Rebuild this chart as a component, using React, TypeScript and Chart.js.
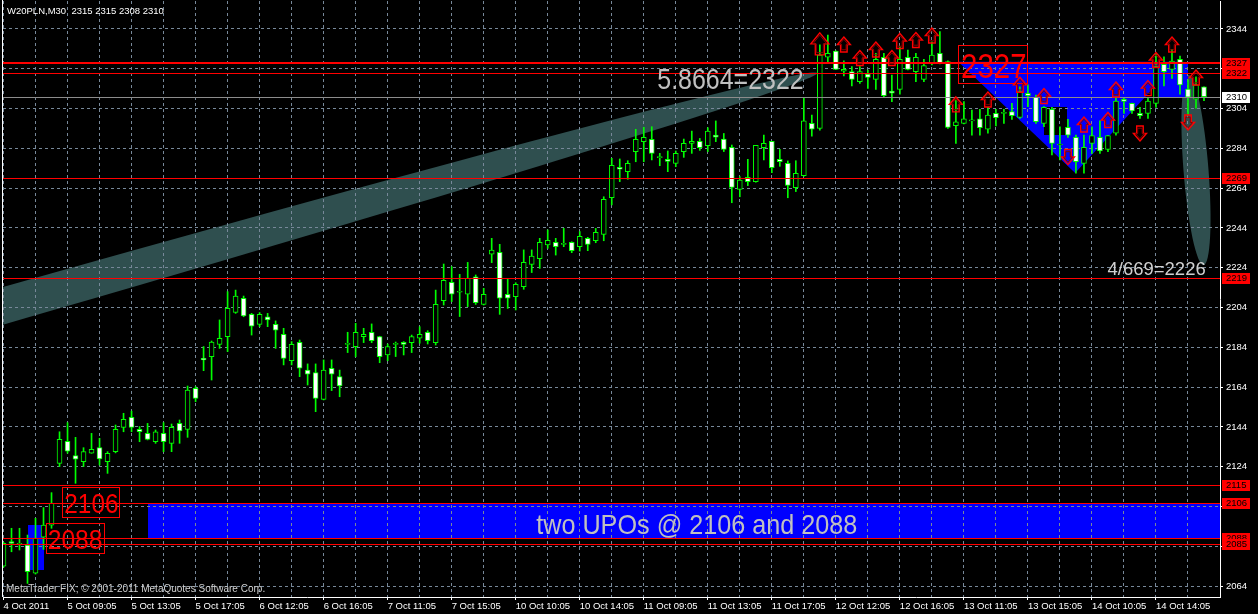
import { useEffect, useRef } from 'react';
import { Chart, registerables } from 'chart.js';

Chart.register(...registerables);

const FONT = "'Liberation Sans', Arial, sans-serif";

// ---- candle data (W20PLN, M30), bar index 0..150 ----
const opens = [
  2074.0, 2086.4, 2085.0, 2084.7, 2070.5, 2088.6, 2094.7, 2125.7, 2136.8, 2129.6,
  2126.6, 2130.8, 2133.6, 2126.6, 2131.6, 2143.8, 2148.9, 2142.8, 2140.8, 2136.6,
  2140.8, 2135.8, 2145.8, 2142.8, 2163.4, 2178.5, 2179.3, 2185.5, 2189.4, 2201.6,
  2208.7, 2200.6, 2195.6, 2199.4, 2195.6, 2190.6, 2177.3, 2186.5, 2172.6, 2171.3,
  2157.9, 2173.5, 2169.3, 2185.5, 2184.4, 2189.4, 2191.6, 2189.4, 2180.2, 2185.5,
  2186.5, 2186.4, 2188.6, 2191.6, 2186.4, 2207.5, 2216.7, 2211.7, 2210.7, 2219.5,
  2205.6, 2230.8, 2231.8, 2210.7, 2209.5, 2214.5, 2225.7, 2228.6, 2235.5, 2236.8,
  2235.8, 2236.8, 2234.6, 2238.8, 2237.6, 2240.8, 2259.2, 2274.5, 2272.3, 2282.4,
  2287.4, 2288.6, 2279.4, 2278.5, 2276.5, 2282.4, 2286.5, 2287.5, 2285.4, 2290.7,
  2288.7, 2284.5, 2263.4, 2269.5, 2267.3, 2284.4, 2287.5, 2278.5, 2276.5, 2264.3,
  2270.3, 2296.6, 2294.1, 2329.8, 2332.9, 2322.8, 2322.6, 2317.5, 2321.4, 2318.7,
  2329.8, 2312.8, 2313.7, 2329.8, 2322.6, 2318.7, 2326.7, 2331.8, 2327.6, 2295.4,
  2296.6, 2297.8, 2298.8, 2293.6, 2301.6, 2301.6, 2302.5, 2299.6, 2311.7, 2309.7,
  2296.6, 2303.6, 2285.7, 2294.6, 2289.6, 2276.5, 2286.5, 2289.6, 2283.5, 2291.6,
  2308.6, 2306.6, 2301.6, 2301.6, 2306.6, 2326.2, 2323.7, 2328.8, 2313.8, 2308.7,
  2315.0,
];
const highs = [
  2086.0, 2093.1, 2093.1, 2089.7, 2098.1, 2103.5, 2111.0, 2141.6, 2146.2, 2138.8,
  2133.6, 2140.8, 2138.3, 2131.6, 2145.0, 2150.9, 2152.0, 2144.2, 2145.8, 2142.5,
  2146.2, 2145.5, 2147.5, 2164.6, 2164.3, 2184.4, 2187.2, 2197.8, 2212.0, 2212.8,
  2209.8, 2201.1, 2201.5, 2201.1, 2197.3, 2193.6, 2186.9, 2187.7, 2175.7, 2175.7,
  2177.7, 2177.7, 2172.6, 2191.6, 2196.1, 2193.6, 2195.8, 2189.6, 2185.7, 2186.7,
  2186.9, 2190.2, 2194.4, 2192.4, 2212.8, 2225.9, 2224.6, 2220.7, 2226.7, 2220.4,
  2213.7, 2238.8, 2235.8, 2218.2, 2216.5, 2233.0, 2233.0, 2238.8, 2243.0, 2238.8,
  2243.8, 2237.1, 2242.2, 2239.3, 2243.8, 2259.7, 2279.0, 2278.7, 2277.8, 2293.6,
  2294.6, 2294.9, 2281.5, 2282.7, 2282.7, 2288.7, 2292.7, 2289.0, 2294.4, 2297.8,
  2291.5, 2285.7, 2269.8, 2278.5, 2285.5, 2290.7, 2287.6, 2283.5, 2277.7, 2277.8,
  2309.2, 2300.8, 2336.0, 2341.0, 2333.0, 2328.0, 2325.1, 2325.1, 2323.4, 2331.8,
  2331.8, 2320.9, 2335.1, 2333.4, 2331.8, 2328.8, 2337.6, 2342.7, 2328.0, 2308.3,
  2307.5, 2303.3, 2303.6, 2304.6, 2303.6, 2303.6, 2306.6, 2315.0, 2315.9, 2310.8,
  2305.0, 2304.6, 2294.9, 2298.6, 2290.7, 2290.7, 2294.9, 2297.9, 2290.6, 2310.0,
  2309.2, 2306.8, 2304.6, 2309.2, 2331.8, 2330.0, 2333.8, 2330.4, 2318.4, 2320.0,
  2315.0,
];
const lows = [
  2073.5, 2081.3, 2082.2, 2065.4, 2070.1, 2082.5, 2093.1, 2124.1, 2130.8, 2115.7,
  2124.1, 2130.8, 2124.9, 2120.7, 2131.0, 2141.6, 2141.6, 2136.6, 2137.5, 2135.8,
  2131.6, 2131.6, 2135.8, 2138.8, 2156.7, 2172.3, 2167.6, 2183.5, 2181.9, 2201.1,
  2199.4, 2190.2, 2194.4, 2194.4, 2183.5, 2175.2, 2175.2, 2169.3, 2165.1, 2151.7,
  2157.6, 2162.3, 2159.2, 2181.4, 2179.3, 2186.4, 2186.4, 2176.3, 2177.3, 2179.4,
  2180.2, 2181.4, 2186.1, 2185.7, 2185.2, 2205.3, 2207.0, 2199.5, 2204.5, 2205.6,
  2205.3, 2226.6, 2200.6, 2203.6, 2202.8, 2213.2, 2221.6, 2223.7, 2233.8, 2230.4,
  2234.6, 2231.6, 2232.4, 2232.6, 2236.6, 2237.6, 2255.6, 2267.3, 2268.5, 2277.3,
  2277.3, 2278.2, 2275.3, 2272.3, 2274.8, 2279.5, 2281.5, 2283.0, 2282.4, 2287.4,
  2282.4, 2256.7, 2259.7, 2265.3, 2267.0, 2278.2, 2271.8, 2275.0, 2259.2, 2262.3,
  2270.0, 2290.2, 2293.2, 2327.6, 2323.5, 2320.4, 2315.4, 2316.7, 2314.2, 2313.7,
  2309.7, 2307.5, 2311.3, 2323.4, 2317.5, 2317.5, 2325.9, 2326.5, 2294.0, 2286.5,
  2296.3, 2290.7, 2290.7, 2291.6, 2295.3, 2296.6, 2298.6, 2299.1, 2305.0, 2296.6,
  2294.9, 2280.7, 2278.2, 2289.5, 2271.5, 2271.5, 2281.5, 2281.5, 2282.4, 2290.7,
  2301.6, 2301.6, 2299.1, 2299.1, 2304.6, 2315.4, 2319.2, 2311.3, 2300.8, 2304.2,
  2308.0,
];
const closes = [
  2085.5, 2085.5, 2085.0, 2071.3, 2088.1, 2094.7, 2105.6, 2137.8, 2131.8, 2127.8,
  2131.6, 2132.8, 2127.9, 2130.8, 2142.8, 2147.8, 2143.8, 2141.6, 2137.8, 2141.6,
  2136.6, 2143.8, 2142.0, 2162.6, 2158.4, 2177.7, 2186.7, 2188.6, 2203.6, 2209.8,
  2199.8, 2194.7, 2200.6, 2197.8, 2192.7, 2178.5, 2185.5, 2173.5, 2170.5, 2158.4,
  2172.6, 2170.5, 2164.6, 2185.5, 2191.6, 2190.6, 2187.4, 2179.4, 2184.4, 2185.5,
  2185.5, 2189.4, 2190.6, 2187.4, 2205.6, 2217.7, 2210.7, 2211.7, 2218.7, 2206.5,
  2210.7, 2232.9, 2208.7, 2208.7, 2215.7, 2226.7, 2229.9, 2236.8, 2237.8, 2234.6,
  2235.8, 2232.6, 2239.8, 2235.8, 2241.8, 2258.4, 2275.5, 2273.5, 2276.5, 2288.6,
  2289.6, 2281.5, 2279.4, 2277.5, 2281.5, 2286.5, 2287.5, 2284.4, 2292.7, 2289.6,
  2283.5, 2264.4, 2268.1, 2267.3, 2285.5, 2286.5, 2274.3, 2277.3, 2265.4, 2271.5,
  2297.8, 2293.6, 2330.9, 2331.8, 2323.7, 2323.7, 2318.7, 2322.6, 2319.7, 2328.8,
  2310.5, 2311.7, 2328.8, 2323.7, 2329.8, 2325.6, 2330.9, 2326.7, 2294.6, 2297.4,
  2298.8, 2297.8, 2294.4, 2300.8, 2299.4, 2301.6, 2300.5, 2312.5, 2310.5, 2297.4,
  2304.6, 2286.5, 2285.7, 2290.7, 2277.3, 2284.5, 2290.4, 2282.7, 2290.4, 2307.8,
  2307.6, 2302.8, 2300.5, 2307.8, 2325.1, 2322.6, 2327.9, 2315.9, 2309.8, 2315.9,
  2310.0,
];

// ---- axis labels ----
const xTickLabels = [
  '4 Oct 2011', '5 Oct 09:05', '5 Oct 13:05', '5 Oct 17:05', '6 Oct 12:05', '6 Oct 16:05',
  '7 Oct 11:05', '7 Oct 15:05', '10 Oct 10:05', '10 Oct 14:05', '11 Oct 09:05', '11 Oct 13:05',
  '11 Oct 17:05', '12 Oct 12:05', '12 Oct 16:05', '13 Oct 11:05', '13 Oct 15:05', '14 Oct 10:05',
  '14 Oct 14:05',
];
const yTickValues = [2064, 2084, 2104, 2124, 2144, 2164, 2184, 2204, 2224, 2244, 2264, 2284, 2304, 2324, 2344];

// ---- horizontal levels ----
const redLevels = [2327, 2322, 2269, 2219, 2115, 2106, 2088, 2085];
const bidLevel = 2310;

// ---- arrows (bar, price of arrow centre, direction) ----
const arrowBars = [102, 105, 107, 109, 111, 112, 114, 116, 119, 123, 127, 130, 133, 135, 138, 139, 142, 143, 144, 146, 148, 149];
const arrowPrices = [2336.5, 2336.2, 2329.4, 2333.7, 2329.4, 2338.0, 2338.5, 2340.7, 2306.1, 2308.6, 2316.0, 2310.3, 2279.7, 2296.0, 2298.3, 2313.6, 2291.5, 2314.3, 2328.4, 2336.2, 2297.0, 2319.6];
const arrowDirs = ['up', 'up', 'up', 'up', 'up', 'up', 'up', 'up', 'up', 'up', 'up', 'up', 'down', 'up', 'up', 'up', 'down', 'up', 'up', 'up', 'down', 'up'];

// ---- drawing objects (bar index, price) ----
const ellipseBig = { b1: 101.7, p1: 2321.9, b2: -138.6, p2: 2045.5, ratio: 0.0183 };
const ellipseSmall = { b1: 148.06, p1: 2320.9, b2: 149.94, p2: 2225.4, ratio: 0.131 };
const blueRects = [
  { b1: 3, b2: 5, p1: 2072.2, p2: 2094.8 },
  { b1: 18, b2: 170, p1: 2088, p2: 2106 },
  { b1: 144, b2: 148, p1: 2310, p2: 2327.6 },
];
const blueTriangle = [[119.3, 2327.6], [133.9, 2271.6], [146.7, 2327.6]];
const blackRect = { b1: 129.97, b2: 132.9, p1: 2290.7, p2: 2304.8 };
const redBoxes = [
  { b1: 119.31, b2: 127.94, p1: 2335.96, p2: 2316.86 },
  { b1: 7.31, b2: 14.44, p1: 2113.85, p2: 2098.78 },
  { b1: 5.31, b2: 12.56, p1: 2095.76, p2: 2080.69 },
];
const texts = [
  { t: '5.8664=2322', b: 81.69, p: 2313.85, size: 29, sx: 0.86, color: '#C0C0C0' },
  { t: '4/669=2226', b: 137.94, p: 2220.4, size: 18.5, sx: 1, color: '#D0D0D0' },
  { t: 'two UPOs @ 2106 and 2088', b: 66.56, p: 2090.2, size: 28, sx: 0.9, color: '#C0C0C0' },
  { t: '2327', b: 119.65, p: 2319.23, size: 35, sx: 0.84, color: '#FF0000' },
  { t: '2106', b: 7.6, p: 2100.8, size: 28, sx: 0.87, color: '#FF0000' },
  { t: '2088', b: 5.52, p: 2082.6, size: 28, sx: 0.88, color: '#FF0000' },
];

const X_MIN = -0.0625;
const X_MAX = 152.0;
const Y_MIN = 2058.57;
const Y_MAX = 2358.07;

function arrowPath(ctx: CanvasRenderingContext2D, cx: number, cy: number, w: number, h: number, dir: string) {
  const s = dir === 'up' ? 1 : -1;
  const tip = cy - (s * h) / 2;
  const base = cy + (s * h) / 2;
  const neck = tip + s * h * 0.5;
  const hw = w / 2;
  const sw = w * 0.25;
  ctx.beginPath();
  ctx.moveTo(cx, tip);
  ctx.lineTo(cx + hw, neck);
  ctx.lineTo(cx + sw, neck);
  ctx.lineTo(cx + sw, base);
  ctx.lineTo(cx - sw, base);
  ctx.lineTo(cx - sw, neck);
  ctx.lineTo(cx - hw, neck);
  ctx.closePath();
}

const mt4Plugin = {
  id: 'mt4objects',
  beforeDraw(chart: any) {
    const { ctx, chartArea: a } = chart;
    const xs = chart.scales.x;
    const ys = chart.scales.y;
    const px = (b: number) => xs.getPixelForValue(b);
    const py = (p: number) => ys.getPixelForValue(p);
    ctx.save();
    ctx.fillStyle = '#000000';
    ctx.fillRect(0, 0, chart.width, chart.height);
    ctx.beginPath();
    ctx.rect(a.left, a.top, a.right - a.left, a.bottom - a.top);
    ctx.clip();
    // ellipses
    [ellipseBig, ellipseSmall].forEach((e) => {
      const x1 = px(e.b1), y1 = py(e.p1), x2 = px(e.b2), y2 = py(e.p2);
      const ra = Math.hypot(x2 - x1, y2 - y1) / 2;
      ctx.beginPath();
      ctx.ellipse((x1 + x2) / 2, (y1 + y2) / 2, ra, ra * e.ratio, Math.atan2(y2 - y1, x2 - x1), 0, Math.PI * 2);
      ctx.fillStyle = '#2F4F4F';
      ctx.fill();
    });
    // blue rectangles
    ctx.fillStyle = '#0000FF';
    blueRects.forEach((r) => {
      const x1 = Math.round(px(r.b1)), x2 = Math.round(px(r.b2));
      const y1 = Math.round(py(r.p2)), y2 = Math.round(py(r.p1));
      ctx.fillRect(x1, y1, x2 - x1, y2 - y1);
    });
    // triangle
    ctx.beginPath();
    blueTriangle.forEach(([b, p], i) => {
      if (i === 0) ctx.moveTo(px(b), py(p));
      else ctx.lineTo(px(b), py(p));
    });
    ctx.closePath();
    ctx.fill();
    // black rectangle
    ctx.fillStyle = '#000000';
    {
      const x1 = Math.round(px(blackRect.b1)), x2 = Math.round(px(blackRect.b2));
      const y1 = Math.round(py(blackRect.p2)), y2 = Math.round(py(blackRect.p1));
      ctx.fillRect(x1, y1, x2 - x1, y2 - y1);
    }
    ctx.restore();
  },
  afterDatasetsDraw(chart: any) {
    const { ctx, chartArea: a } = chart;
    const xs = chart.scales.x;
    const ys = chart.scales.y;
    const px = (b: number) => xs.getPixelForValue(b);
    const py = (p: number) => ys.getPixelForValue(p);
    ctx.save();
    ctx.beginPath();
    ctx.rect(a.left, a.top, a.right - a.left, a.bottom - a.top);
    ctx.clip();
    // bid line
    ctx.fillStyle = '#8C8C8C';
    ctx.fillRect(a.left, Math.round(py(bidLevel)), a.right - a.left, 1);
    // red levels
    ctx.fillStyle = '#FF0000';
    redLevels.forEach((l, i) => {
      const yy = Math.round(py(l));
      if (i === 0) ctx.fillRect(a.left, yy - 1, a.right - a.left, 2);
      else ctx.fillRect(a.left, yy, a.right - a.left, 1);
    });
    // red boxes
    ctx.strokeStyle = '#FF0000';
    ctx.lineWidth = 1;
    redBoxes.forEach((r) => {
      const x1 = Math.round(px(r.b1)) + 0.5, x2 = Math.round(px(r.b2)) + 0.5;
      const y1 = Math.round(py(r.p1)) + 0.5, y2 = Math.round(py(r.p2)) + 0.5;
      ctx.strokeRect(x1, y1, x2 - x1, y2 - y1);
    });
    // texts
    texts.forEach((t) => {
      ctx.save();
      ctx.font = `${t.size}px ${FONT}`;
      ctx.fillStyle = t.color;
      ctx.textAlign = 'left';
      ctx.textBaseline = 'alphabetic';
      ctx.translate(px(t.b), py(t.p));
      ctx.scale(t.sx, 1);
      ctx.fillText(t.t, 0, 0);
      ctx.restore();
    });
    // arrows
    arrowBars.forEach((b, i) => {
      const big = i === 0;
      const w = big ? 18 : 13;
      const h = big ? 22 : 15;
      const cx = px(b);
      const cy = py(arrowPrices[i]);
      arrowPath(ctx, cx, cy, w, h, arrowDirs[i]);
      ctx.strokeStyle = '#FF0000';
      ctx.lineWidth = 1.4;
      ctx.stroke();
      arrowPath(ctx, cx, cy, w - 4, h - 4.5, arrowDirs[i]);
      ctx.strokeStyle = '#8B0000';
      ctx.lineWidth = 1;
      ctx.stroke();
    });
    ctx.restore();
  },
  afterDraw(chart: any) {
    const { ctx, chartArea: a } = chart;
    const ys = chart.scales.y;
    const py = (p: number) => ys.getPixelForValue(p);
    ctx.save();
    // left frame line
    ctx.fillStyle = '#FFFFFF';
    ctx.fillRect(a.left - 1, a.top - 1, 1, a.bottom - a.top + 1);
    // axis price labels
    const labels = [...redLevels.map((l) => ({ v: l, bg: '#FF0000' })), { v: bidLevel, bg: '#FFFFFF' }]
      .sort((p, q) => q.v - p.v);
    ctx.font = `9.5px ${FONT}`;
    ctx.textAlign = 'left';
    ctx.textBaseline = 'middle';
    labels.forEach((l) => {
      const yy = Math.round(py(l.v));
      ctx.fillStyle = l.bg;
      ctx.fillRect(a.right + 2, yy - 5, 28, 11);
      ctx.fillStyle = '#000000';
      ctx.fillText(String(l.v), a.right + 6, yy + 0.5);
    });
    // title
    ctx.textBaseline = 'alphabetic';
    ctx.fillStyle = '#FFFFFF';
    ctx.font = `9.5px ${FONT}`;
    ctx.fillText('W20PLN,M30  2315 2315 2308 2310', 7, 14);
    // watermark
    ctx.fillStyle = '#D0D0D0';
    ctx.font = `10px ${FONT}`;
    ctx.fillText('MetaTrader FIX; \u00A9 2001-2011 MetaQuotes Software Corp.', 6, 592);
    ctx.restore();
  },
};

export default function App() {
  const ref = useRef<HTMLCanvasElement>(null);
  useEffect(() => {
    document.body.style.margin = '0';
    document.body.style.background = '#000';
    document.documentElement.style.background = '#000';
    const canvas = ref.current;
    if (!canvas) return;
    const idx = opens.map((_, i) => i);
    const bodies = idx.map((i) => ({ x: i, y: [opens[i], closes[i]] }));
    const wicks = idx.map((i) => ({ x: i, y: [lows[i], highs[i]] }));
    const bodyFill = idx.map((i) => (closes[i] < opens[i] ? '#FFFFFF' : '#000000'));
    const chart = new Chart(canvas, {
      type: 'bar',
      data: {
        datasets: [
          {
            data: bodies as any,
            backgroundColor: bodyFill,
            borderColor: '#00FF00',
            borderWidth: 1,
            borderSkipped: false,
            maxBarThickness: 5,
            barPercentage: 1,
            categoryPercentage: 1,
            minBarLength: 1,
            grouped: false,
          } as any,
          {
            data: wicks as any,
            backgroundColor: '#00FF00',
            borderWidth: 0,
            maxBarThickness: 1,
            barPercentage: 1,
            categoryPercentage: 1,
            grouped: false,
          } as any,
        ],
      },
      options: {
        responsive: false,
        maintainAspectRatio: false,
        animation: false,
        devicePixelRatio: 1,
        events: [],
        layout: { padding: { left: 3, top: 1, right: 0, bottom: 0 } },
        plugins: { legend: { display: false }, tooltip: { enabled: false } },
        scales: {
          x: {
            type: 'linear',
            min: X_MIN,
            max: X_MAX,
            offset: false,
            afterBuildTicks: (s: any) => {
              s.ticks = Array.from({ length: 38 }, (_, k) => ({ value: k * 4 }));
            },
            afterFit: (s: any) => {
              s.height = 17;
              s.paddingLeft = 0;
              s.paddingRight = 0;
              s.paddingTop = 0;
              s.paddingBottom = 0;
            },
            grid: {
              color: '#778899',
              lineWidth: 1,
              offset: false,
              drawTicks: true,
              tickLength: 3,
              tickColor: (c: any) => (c.tick && Math.round(c.tick.value) % 8 === 0 ? '#FFFFFF' : 'rgba(0,0,0,0)'),
            },
            border: { display: true, color: '#FFFFFF', width: 1, dash: [3, 3] },
            ticks: {
              autoSkip: false,
              maxRotation: 0,
              minRotation: 0,
              align: 'start',
              padding: 1,
              color: '#FFFFFF',
              font: { family: FONT, size: 9.5 },
              callback: (v: any) => {
                const i = Math.round(Number(v));
                return i % 8 === 0 ? xTickLabels[i / 8] ?? '' : '';
              },
            },
          } as any,
          y: {
            type: 'linear',
            position: 'right',
            min: Y_MIN,
            max: Y_MAX,
            afterBuildTicks: (s: any) => {
              s.ticks = yTickValues.map((v) => ({ value: v }));
            },
            afterFit: (s: any) => {
              s.width = 38;
              s.paddingLeft = 0;
              s.paddingRight = 0;
              s.paddingTop = 0;
              s.paddingBottom = 0;
            },
            grid: { color: '#778899', lineWidth: 1, drawTicks: true, tickLength: 3, tickColor: '#FFFFFF' },
            border: { display: true, color: '#FFFFFF', width: 1, dash: [3, 3] },
            ticks: {
              autoSkip: false,
              padding: 3,
              color: '#FFFFFF',
              font: { family: FONT, size: 9.5 },
              callback: (v: any) => String(Math.round(Number(v))),
            },
          } as any,
        },
      },
      plugins: [mt4Plugin as any],
    });
    return () => chart.destroy();
  }, []);
  return <canvas ref={ref} width={1258} height={614} style={{ display: 'block' }} />;
}
